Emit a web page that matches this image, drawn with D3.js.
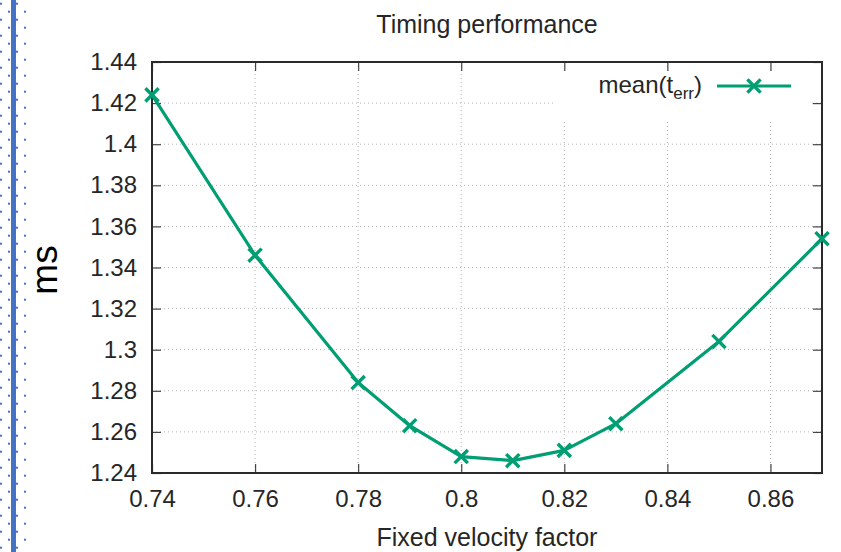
<!DOCTYPE html>
<html>
<head>
<meta charset="utf-8">
<script src="https://cdn.jsdelivr.net/npm/d3@7"></script>
<style>
  html, body { margin: 0; padding: 0; background: #fff; }
  svg { display: block; }
  text { font-family: "Liberation Sans", Arial, sans-serif; }
</style>
</head>
<body>
<svg id="chart" width="841" height="552"></svg>
<script>
// Velocity factors and the mean timing error (ms) measured for each
const velocityFactors = [0.74, 0.76, 0.78, 0.79, 0.80, 0.81, 0.82, 0.83, 0.85, 0.87];
const meanTErr        = [1.424, 1.346, 1.284, 1.263, 1.248, 1.246, 1.251, 1.264, 1.304, 1.354];

const xTickValues = [0.74, 0.76, 0.78, 0.80, 0.82, 0.84, 0.86];
const xTickLabels = ["0.74", "0.76", "0.78", "0.8", "0.82", "0.84", "0.86"];
const yTickValues = [1.24, 1.26, 1.28, 1.30, 1.32, 1.34, 1.36, 1.38, 1.40, 1.42, 1.44];
const yTickLabels = ["1.24", "1.26", "1.28", "1.3", "1.32", "1.34", "1.36", "1.38", "1.4", "1.42", "1.44"];

const xDomain = [0.74, 0.87];
const yDomain = [1.24, 1.44];

const svg = d3.select("#chart");
const plot = { left: 152, right: 822, top: 62, bottom: 473 };
const lineColor = "#009e73";
const textColor = "#262626";

const x = d3.scaleLinear().domain(xDomain).range([plot.left, plot.right]);
const y = d3.scaleLinear().domain(yDomain).range([plot.bottom, plot.top]);

// Page margin decoration: blue rule with dotted guides
const deco = svg.append("g");
deco.append("rect").attr("x", 11).attr("y", 0).attr("width", 5).attr("height", 552).attr("fill", "#4472c4");
[[0, 2.7], [8, 10.7], [16, 2.7], [24, 10.7]].forEach(([cx, off]) => {
  deco.selectAll(null)
    .data(d3.range(off, 552, 16))
    .enter().append("rect")
    .attr("x", cx).attr("y", d => d)
    .attr("width", 2).attr("height", 2)
    .attr("fill", "#4472c4");
});

// Dotted grid
const grid = svg.append("g").attr("stroke", "#b4b4b4").attr("stroke-width", 1)
  .attr("stroke-dasharray", "1,3");
grid.selectAll(null).data(xTickValues.slice(1)).enter().append("line")
  .attr("x1", d => x(d)).attr("x2", d => x(d))
  .attr("y1", plot.top).attr("y2", plot.bottom);
grid.selectAll(null).data(yTickValues.slice(1, -1)).enter().append("line")
  .attr("y1", d => y(d)).attr("y2", d => y(d))
  .attr("x1", plot.left).attr("x2", plot.right);

// Opaque key box
svg.append("rect").attr("x", 556).attr("y", 72).attr("width", 256).attr("height", 48).attr("fill", "#fff");

// Axes with inward ticks, mirrored on top and right
function styleAxis(g) {
  g.select(".domain").remove();
  g.selectAll(".tick line").attr("stroke", "#444").attr("stroke-width", 1.2);
  g.selectAll(".tick text").attr("fill", textColor).attr("font-size", 24)
    .attr("font-family", "Liberation Sans, Arial, sans-serif");
}
svg.append("g").attr("transform", `translate(0,${plot.bottom})`)
  .call(d3.axisBottom(x).tickValues(xTickValues).tickFormat((d, i) => xTickLabels[i])
    .tickSize(-9).tickPadding(17))
  .call(styleAxis);
svg.append("g").attr("transform", `translate(0,${plot.top})`)
  .call(d3.axisTop(x).tickValues(xTickValues).tickFormat("").tickSize(-9))
  .call(styleAxis);
svg.append("g").attr("transform", `translate(${plot.left},0)`)
  .call(d3.axisLeft(y).tickValues(yTickValues).tickFormat((d, i) => yTickLabels[i])
    .tickSize(-9).tickPadding(15))
  .call(styleAxis);
svg.append("g").attr("transform", `translate(${plot.right},0)`)
  .call(d3.axisRight(y).tickValues(yTickValues).tickFormat("").tickSize(-9))
  .call(styleAxis);

// Frame
svg.append("rect")
  .attr("x", plot.left).attr("y", plot.top)
  .attr("width", plot.right - plot.left).attr("height", plot.bottom - plot.top)
  .attr("fill", "none").attr("stroke", "#2a2a2a").attr("stroke-width", 2);

// Series line
const pts = velocityFactors.map((v, i) => [v, meanTErr[i]]);
svg.append("path")
  .datum(pts)
  .attr("fill", "none")
  .attr("stroke", lineColor)
  .attr("stroke-width", 3.2)
  .attr("stroke-linejoin", "round")
  .attr("d", d3.line().x(d => x(d[0])).y(d => y(d[1])));

// Cross markers
const cross = d3.symbol().type(d3.symbolX).size(115);
svg.append("g").selectAll("path").data(pts).enter().append("path")
  .attr("transform", d => `translate(${x(d[0])},${y(d[1])})`)
  .attr("d", cross)
  .attr("fill", "none")
  .attr("stroke", lineColor)
  .attr("stroke-width", 3.4);

// Key
const key = svg.append("text")
  .attr("x", 702).attr("y", 93)
  .attr("text-anchor", "end")
  .attr("font-size", 24)
  .attr("fill", textColor);
key.append("tspan").text("mean(t");
key.append("tspan").attr("font-size", 17).attr("dy", 6).text("err");
key.append("tspan").attr("dy", -6).text(")");
svg.append("line")
  .attr("x1", 717).attr("x2", 791).attr("y1", 86).attr("y2", 86)
  .attr("stroke", lineColor).attr("stroke-width", 3.2);
svg.append("path")
  .attr("transform", "translate(754,86)")
  .attr("d", cross)
  .attr("fill", "none").attr("stroke", lineColor).attr("stroke-width", 3.4);

// Title and axis labels
svg.append("text")
  .attr("x", (plot.left + plot.right) / 2).attr("y", 33)
  .attr("text-anchor", "middle").attr("font-size", 25).attr("fill", textColor)
  .text("Timing performance");
svg.append("text")
  .attr("x", (plot.left + plot.right) / 2).attr("y", 546)
  .attr("text-anchor", "middle").attr("font-size", 25).attr("fill", textColor)
  .text("Fixed velocity factor");
svg.append("text")
  .attr("transform", "translate(57,270) rotate(-90)")
  .attr("text-anchor", "middle")
  .attr("font-family", "Open Sans, sans-serif")
  .attr("font-size", 37)
  .attr("fill", "#000")
  .text("ms");
</script>
</body>
</html>
